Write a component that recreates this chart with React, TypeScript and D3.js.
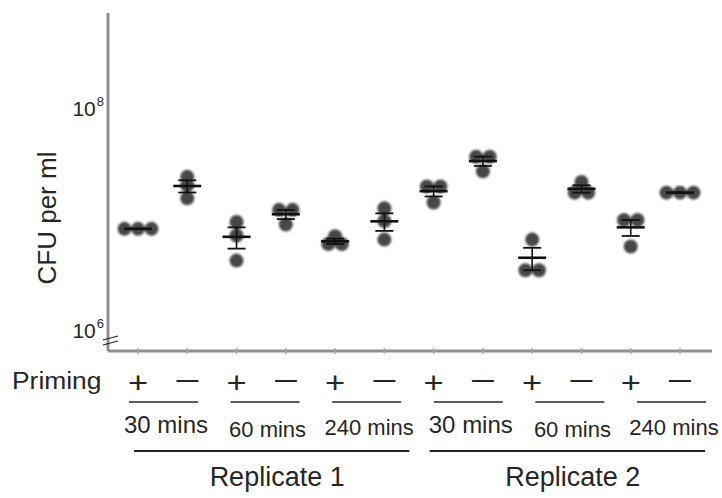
import React from "react";
import * as d3 from "d3";

const groups = ["R1-30+", "R1-30-", "R1-60+", "R1-60-", "R1-240+", "R1-240-", "R2-30+", "R2-30-", "R2-60+", "R2-60-", "R2-240+", "R2-240-"];
const primingSigns = ["+", "−", "+", "−", "+", "−", "+", "−", "+", "−", "+", "−"];
const timeLabels = ["30 mins", "60 mins", "240 mins", "30 mins", "60 mins", "240 mins"];
const replicateLabels = ["Replicate 1", "Replicate 2"];
const yTicks = [1e6, 1e8];

const g1 = [8.5e6, 8.5e6, 8.5e6];
const g2 = [2.5e7, 2.1e7, 1.6e7];
const g3 = [9.8e6, 7.4e6, 4.4e6];
const g4 = [1.26e7, 1.26e7, 9.3e6];
const g5 = [7.3e6, 6.2e6, 6.2e6];
const g6 = [1.3e7, 1.0e7, 6.8e6];
const g7 = [2.05e7, 2.05e7, 1.47e7];
const g8 = [3.8e7, 3.8e7, 2.8e7];
const g9 = [6.8e6, 3.6e6, 3.6e6];
const g10 = [2.25e7, 1.8e7, 1.8e7];
const g11 = [1.02e7, 1.02e7, 5.9e6];
const g12 = [1.8e7, 1.8e7, 1.8e7];
const values = [g1, g2, g3, g4, g5, g6, g7, g8, g9, g10, g11, g12];

const W = 722, H = 498;
const axisLeft = 108, axisRight = 712, axisTop = 13, axisBottom = 351;
const R = 7;
const font = "Arial, 'Liberation Sans', sans-serif";
const ink = "#262626";

export default function App() {
  const x = d3.scalePoint<string>().domain(groups).range([138, 680]);
  const y = d3.scaleLog().domain([1e6, 1e8]).range([332, 110]);
  const xt = d3.scalePoint<number>().domain(d3.range(timeLabels.length)).range([166, 674]);

  const marks = values.map((vals, gi) => {
    const cx = x(groups[gi])!;
    const pts = vals.map((v) => ({ v, py: y(v) })).sort((a, b) => a.py - b.py);
    const rows: { v: number; py: number }[][] = [];
    pts.forEach((p) => {
      const last = rows[rows.length - 1];
      if (last && Math.abs(last[0].py - p.py) < 6) last.push(p);
      else rows.push([p]);
    });
    const dots: { x: number; y: number }[] = [];
    rows.forEach((row) => {
      row.forEach((p, i) => {
        dots.push({ x: cx + (i - (row.length - 1) / 2) * 13.5, y: p.py });
      });
    });
    const mean = d3.mean(vals)!;
    const sd = d3.deviation(vals) || 0;
    const sem = sd / Math.sqrt(vals.length);
    return { cx, dots, mean, lo: mean - sem, hi: mean + sem };
  });

  return (
    <div style={{ position: "absolute", left: 0, top: 0 }}>
      <svg width={W} height={H} style={{ display: "block", background: "#fff" }}>
        <defs>
          <filter id="soft" x="-20%" y="-20%" width="140%" height="140%">
            <feGaussianBlur stdDeviation="0.8" />
          </filter>
        </defs>
        {/* axes */}
        <line x1={axisLeft} x2={axisLeft} y1={axisTop} y2={axisBottom} stroke="#8f8f8f" strokeWidth={3} />
        <line x1={axisLeft} x2={axisRight} y1={axisBottom} y2={axisBottom} stroke="#8f8f8f" strokeWidth={3} />
        {groups.map((g) => (
          <line key={g} x1={x(g)} x2={x(g)} y1={axisBottom - 3} y2={axisBottom + 3} stroke="#a8a8a8" strokeWidth={1.5} />
        ))}
        {/* axis break */}
        <line x1={103} x2={118} y1={340} y2={336} stroke="#222" strokeWidth={1.2} />
        <line x1={103} x2={118} y1={345} y2={341} stroke="#222" strokeWidth={1.2} />
        {/* y tick labels */}
        {yTicks.map((t) => (
          <text key={t} x={104} y={y(t) + 6} textAnchor="end" fontFamily={font} fontSize={21} fill={ink}>
            10
            <tspan dx={1} dy={-10} fontSize={13}>{Math.round(Math.log10(t))}</tspan>
          </text>
        ))}
        <text transform={`translate(56,218) rotate(-90)`} textAnchor="middle" fontFamily={font} fontSize={26} fill={ink}>
          CFU per ml
        </text>
        {/* data */}
        {marks.map((m, gi) => (
          <g key={gi}>
            <g filter="url(#soft)">
              {m.dots.map((d, i) => (
                <circle key={i} cx={d.x} cy={d.y} r={R} fill="#474747" />
              ))}
            </g>
            <line x1={m.cx} x2={m.cx} y1={y(m.hi)} y2={y(m.lo)} stroke="#111" strokeWidth={1.6} />
            <line x1={m.cx - 9} x2={m.cx + 9} y1={y(m.hi)} y2={y(m.hi)} stroke="#111" strokeWidth={1.8} />
            <line x1={m.cx - 9} x2={m.cx + 9} y1={y(m.lo)} y2={y(m.lo)} stroke="#111" strokeWidth={1.8} />
            <line x1={m.cx - 14} x2={m.cx + 14} y1={y(m.mean)} y2={y(m.mean)} stroke="#111" strokeWidth={2.6} />
          </g>
        ))}
        {/* bottom annotations */}
        <text transform="translate(12,389) scale(1.1,1)" fontFamily={font} fontSize={24} fill={ink}>Priming</text>
        {groups.map((g, i) => {
          const plus = primingSigns[i] === "+";
          return (
            <text
              key={g}
              transform={`translate(${x(g)},${plus ? 393 : 391}) scale(${plus ? 1.15 : 1.5},1)`}
              textAnchor="middle"
              fontFamily={font}
              fontSize={30}
              fill={ink}
            >
              {primingSigns[i]}
            </text>
          );
        })}
        {timeLabels.map((t, i) => {
          const c = xt(i)!;
          const big = t.startsWith("30");
          const small60 = t.startsWith("60");
          return (
            <g key={i}>
              <line x1={c - 37} x2={c + 32} y1={402} y2={402} stroke={ink} strokeWidth={1.6} />
              <text
                x={c}
                y={big ? 433 : small60 ? 437 : 435}
                textAnchor="middle"
                fontFamily={font}
                fontSize={big ? 24 : 22}
                fill={ink}
              >
                {t}
              </text>
            </g>
          );
        })}
        {replicateLabels.map((r, i) => {
          const a = x(groups[i * 6])!;
          const b = x(groups[i * 6 + 5])!;
          return (
            <g key={r}>
              <line x1={a - 4} x2={b + 25} y1={451} y2={451} stroke={ink} strokeWidth={2} />
              <text x={(a + b) / 2 + 16} y={486} textAnchor="middle" fontFamily={font} fontSize={27} fill={ink}>
                {r}
              </text>
            </g>
          );
        })}
      </svg>
    </div>
  );
}
